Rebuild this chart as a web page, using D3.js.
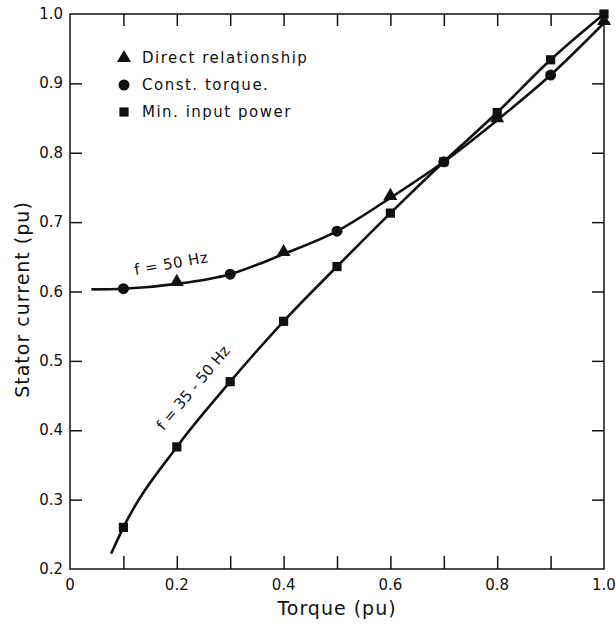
<!DOCTYPE html>
<html>
<head>
<meta charset="utf-8">
<script src="https://cdn.jsdelivr.net/npm/d3@7"></script>
<style>
  body { margin: 0; background: #fff; }
  text { font-family: "DejaVu Sans", sans-serif; fill: #111; }
</style>
</head>
<body>
<div id="chart"></div>
<script>
// data
var xTicks = [0, 0.2, 0.4, 0.6, 0.8, 1.0];
var yTicks = [0.2, 0.3, 0.4, 0.5, 0.6, 0.7, 0.8, 0.9, 1.0];

// min input power, f = 35 - 50 Hz (squares)
var powerTorque = [0.1, 0.2, 0.3, 0.4, 0.5, 0.6, 0.7, 0.8, 0.9, 1.0];
var powerCurrent = [0.26, 0.376, 0.47, 0.557, 0.636, 0.713, 0.787, 0.858, 0.934, 1.0];
var powerStart = [0.077, 0.222];

// const torque, f = 50 Hz (circles)
var constTorque = [0.1, 0.3, 0.5, 0.7, 0.9];
var constCurrent = [0.604, 0.625, 0.687, 0.787, 0.912];

// direct relationship, f = 50 Hz (triangles)
var directTorque = [0.2, 0.4, 0.6, 0.8, 1.0];
var directCurrent = [0.611, 0.654, 0.735, 0.847, 0.987];
var fixedStart = [0.04, 0.603];

var legendNames = ["Direct relationship", "Const. torque.", "Min. input power"];

// set the dimensions and margins of the graph
var margin = { top: 14, right: 12, bottom: 57, left: 70 },
  width = 616 - margin.left - margin.right,
  height = 626 - margin.top - margin.bottom;

var svg = d3.select("#chart")
  .append("svg")
  .attr("width", 616)
  .attr("height", 626)
  .append("g")
  .attr("transform", "translate(" + margin.left + "," + margin.top + ")");

var x = d3.scaleLinear().domain([0, 1]).range([0, width]);
var y = d3.scaleLinear().domain([0.2, 1]).range([height, 0]);

// frame
svg.append("rect")
  .attr("width", width).attr("height", height)
  .attr("fill", "none").attr("stroke", "#111").attr("stroke-width", 1.5);

// inward ticks on all four sides, every 0.1
var minor = d3.range(1, 10).map(function (d) { return d / 10; });
svg.append("g").attr("transform", "translate(0," + height + ")")
  .call(d3.axisTop(x).tickValues(minor).tickSize(13).tickFormat(""))
  .call(function (g) { g.select(".domain").remove(); });
svg.append("g")
  .call(d3.axisBottom(x).tickValues(minor).tickSize(12).tickFormat(""))
  .call(function (g) { g.select(".domain").remove(); });
svg.append("g")
  .call(d3.axisRight(y).tickValues(yTicks.slice(1, -1)).tickSize(12).tickFormat(""))
  .call(function (g) { g.select(".domain").remove(); });
svg.append("g").attr("transform", "translate(" + width + ",0)")
  .call(d3.axisLeft(y).tickValues(yTicks.slice(1, -1)).tickSize(12).tickFormat(""))
  .call(function (g) { g.select(".domain").remove(); });
svg.selectAll(".tick line").attr("stroke", "#111").attr("stroke-width", 1.5);

// tick labels
svg.selectAll(".xlab")
  .data(xTicks)
  .enter().append("text")
  .attr("x", function (d) { return x(d); })
  .attr("y", height + 21)
  .attr("text-anchor", "middle")
  .style("font-size", "15px")
  .text(function (d) { return d === 0 ? "0" : d.toFixed(1); });

svg.selectAll(".ylab")
  .data(yTicks)
  .enter().append("text")
  .attr("x", -7)
  .attr("y", function (d) { return y(d) + 5; })
  .attr("text-anchor", "end")
  .style("font-size", "15px")
  .text(function (d) { return d.toFixed(1); });

// axis titles
svg.append("text")
  .attr("x", x(0.5))
  .attr("y", height + 46)
  .attr("text-anchor", "middle")
  .style("font-size", "19px")
  .style("letter-spacing", "1px")
  .text("Torque (pu)");

svg.append("text")
  .attr("transform", "rotate(-90)")
  .attr("x", -(y(0.6) + 8))
  .attr("y", -margin.left + 29)
  .attr("text-anchor", "middle")
  .style("font-size", "19px")
  .style("letter-spacing", "1px")
  .text("Stator current (pu)");

// curves
var line = d3.line()
  .x(function (d) { return x(d[0]); })
  .y(function (d) { return y(d[1]); })
  .curve(d3.curveMonotoneX);

var fixedPts = [fixedStart]
  .concat(constTorque.map(function (t, i) { return [t, constCurrent[i]]; }))
  .concat(directTorque.map(function (t, i) { return [t, directCurrent[i]]; }))
  .sort(function (a, b) { return a[0] - b[0]; });
var powerPts = [powerStart]
  .concat(powerTorque.map(function (t, i) { return [t, powerCurrent[i]]; }));

svg.append("path").datum(fixedPts)
  .attr("d", line).attr("fill", "none").attr("stroke", "#111").attr("stroke-width", 2.6);
svg.append("path").datum(powerPts)
  .attr("d", line).attr("fill", "none").attr("stroke", "#111").attr("stroke-width", 2.6);

// markers
var tri = d3.symbol().type(d3.symbolTriangle).size(85);
var circ = d3.symbol().type(d3.symbolCircle).size(95);
var sq = d3.symbol().type(d3.symbolSquare).size(85);

svg.selectAll(".sq")
  .data(powerTorque)
  .enter().append("path")
  .attr("d", sq)
  .attr("transform", function (d, i) { return "translate(" + x(d) + "," + y(powerCurrent[i]) + ")"; })
  .attr("fill", "#111");
svg.selectAll(".circ")
  .data(constTorque)
  .enter().append("path")
  .attr("d", circ)
  .attr("transform", function (d, i) { return "translate(" + x(d) + "," + y(constCurrent[i]) + ")"; })
  .attr("fill", "#111");
svg.selectAll(".tri")
  .data(directTorque)
  .enter().append("path")
  .attr("d", tri)
  .attr("transform", function (d, i) { return "translate(" + x(d) + "," + (y(directCurrent[i]) - 2) + ")"; })
  .attr("fill", "#111");

// curve labels
svg.append("text")
  .attr("transform", "translate(" + x(0.122) + "," + (y(0.615) - 6) + ") rotate(-10)")
  .style("font-size", "15px")
  .style("letter-spacing", "0.5px")
  .text("f = 50 Hz");
svg.append("text")
  .attr("transform", "translate(" + x(0.175) + "," + (y(0.4) + 1) + ") rotate(-50)")
  .style("font-size", "15px")
  .text("f = 35 - 50 Hz");

// legend
var legendSym = [tri, circ, sq];
var legend = svg.selectAll(".legend")
  .data(legendNames)
  .enter().append("g")
  .attr("transform", function (d, i) { return "translate(" + 54 + "," + (44 + i * 27) + ")"; });
legend.append("path")
  .attr("d", function (d, i) { return legendSym[i](); })
  .attr("fill", "#111");
legend.append("text")
  .attr("x", 18)
  .attr("y", 5)
  .style("font-size", "15px")
  .style("letter-spacing", "1.5px")
  .text(function (d) { return d; });
</script>
</body>
</html>
